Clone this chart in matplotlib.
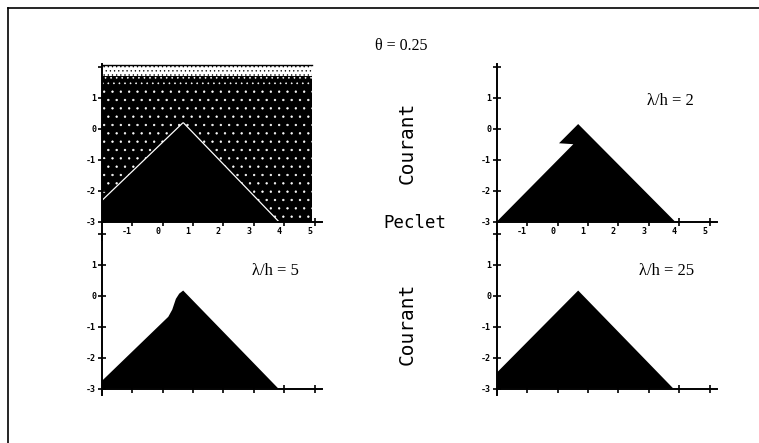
import matplotlib.pyplot as plt
from matplotlib.lines import Line2D
from matplotlib.patches import Rectangle
from matplotlib.transforms import ScaledTranslation

FIG_W, FIG_H, DPI = 759, 443, 100

# log10(Peclet) on x, log10(Courant) on y
peclet_ticks = [-1, 0, 1, 2, 3, 4, 5]
peclet_tick_labels = ["-1", "0", "1", "2", "3", "4", "5"]
courant_ticks = [-3, -2, -1, 0, 1, 2]
courant_tick_labels = ["-3", "-2", "-1", "0", "1", ""]

# stability boundary, lumped scheme (upper left)
peclet_lumped = [-2.0, 0.68, 3.80]
courant_lumped = [-2.35, 0.17, -3.0]
# extent of the unstable (noisy) zone in the lumped case
noise_peclet = [-2.0, 4.91]
noise_courant = [-3.0, 2.05]
noise_mid_courant = [1.30, 1.70]
noise_top_courant = [1.70, 2.05]

# lambda/h = 2
peclet_lh2 = [-2.0, 0.52, 0.05, 0.68, 3.87]
courant_lh2 = [-3.0, -0.50, -0.47, 0.15, -3.0]

# lambda/h = 5
peclet_lh5 = [-2.0, 0.19, 0.32, 0.44, 0.55, 0.68, 3.81]
courant_lh5 = [-2.76, -0.68, -0.45, -0.10, 0.07, 0.17, -3.0]

# lambda/h = 25
peclet_lh25 = [-2.0, 0.68, 3.81]
courant_lh25 = [-2.49, 0.17, -3.0]

panel_titles = ["", r"λ/h = 2", r"λ/h = 5", r"λ/h = 25"]


def px_rect(left, top, right, bottom):
    """Pixel box -> figure fraction rect."""
    return [left / FIG_W, 1 - bottom / FIG_H, (right - left) / FIG_W, (bottom - top) / FIG_H]


def style_axes(ax, fig, ylim, show_xlabels):
    ax.set_facecolor("none")
    ax.set_xlim(-2.0, 5.24)
    ax.set_ylim(*ylim)
    for side in ("top", "right"):
        ax.spines[side].set_visible(False)
    ax.spines["bottom"].set_position(("data", -3.0))
    for side in ("left", "bottom"):
        ax.spines[side].set_linewidth(1.4)
        ax.spines[side].set_zorder(5)

    ax.tick_params(direction="inout", length=6, width=1.2, pad=1.0, zorder=6)
    ax.set_xticks(peclet_ticks)
    ax.set_yticks(courant_ticks)
    tick_font = dict(fontfamily="DejaVu Sans Mono", fontweight="bold", fontsize=6)
    ax.set_yticklabels(courant_tick_labels, **tick_font)
    if show_xlabels:
        ax.set_xticklabels(peclet_tick_labels, **tick_font)
        shift = ScaledTranslation(-5 / DPI, 0, fig.dpi_scale_trans)
        for lab in ax.get_xticklabels():
            lab.set_transform(lab.get_transform() + shift)
    else:
        ax.set_xticklabels([])


def fill_stable(ax, peclet, courant):
    xs = list(peclet) + [peclet[-1], peclet[0]]
    ys = list(courant) + [-3.0, -3.0]
    ax.fill(xs, ys, facecolor="black", edgecolor="none", zorder=3)


def speckle_band(ax, courant_span, face, dots, hatch, z):
    ax.add_patch(Rectangle(
        (noise_peclet[0], courant_span[0]),
        noise_peclet[1] - noise_peclet[0], courant_span[1] - courant_span[0],
        facecolor=face, edgecolor=dots, hatch=hatch, linewidth=0, zorder=z,
    ))


def draw_lumped(ax):
    # unstable zone: black with white specks, lighter towards the top
    speckle_band(ax, noise_courant, "black", "white", "..", 1.0)
    speckle_band(ax, noise_mid_courant, "black", "white", "...", 1.5)
    speckle_band(ax, noise_top_courant, "white", "black", "....", 1.6)
    ax.plot(noise_peclet, [noise_courant[1]] * 2, color="black", lw=1.0, zorder=2)
    # thin white gap along the stability boundary
    ax.plot(peclet_lumped, courant_lumped, color="white", lw=1.8, zorder=2.5,
            solid_capstyle="butt")
    fill_stable(ax, peclet_lumped, courant_lumped)


def main():
    plt.rcParams["hatch.linewidth"] = 0.45
    fig = plt.figure(figsize=(FIG_W / DPI, FIG_H / DPI), dpi=DPI)
    fig.patch.set_facecolor("white")

    top_y = (64.2, 240.3)
    bot_y = (231.5, 394.7)
    left_x = (101.7, 321.8)
    right_x = (496.7, 716.8)

    ax_a = fig.add_axes(px_rect(left_x[0], top_y[0], left_x[1], top_y[1]))
    ax_b = fig.add_axes(px_rect(right_x[0], top_y[0], right_x[1], top_y[1]))
    ax_c = fig.add_axes(px_rect(left_x[0], bot_y[0], left_x[1], bot_y[1]))
    ax_d = fig.add_axes(px_rect(right_x[0], bot_y[0], right_x[1], bot_y[1]))

    style_axes(ax_a, fig, (-3.6, 2.08), True)
    style_axes(ax_b, fig, (-3.6, 2.08), True)
    style_axes(ax_c, fig, (-3.2, 2.08), False)
    style_axes(ax_d, fig, (-3.2, 2.08), False)

    draw_lumped(ax_a)
    fill_stable(ax_b, peclet_lh2, courant_lh2)
    fill_stable(ax_c, peclet_lh5, courant_lh5)
    fill_stable(ax_d, peclet_lh25, courant_lh25)

    serif = dict(fontfamily="Liberation Serif", fontsize=12, ha="center", va="center")
    ax_b.text(0.79, 0.79, panel_titles[1], transform=ax_b.transAxes, **serif)
    ax_c.text(0.79, 0.76, panel_titles[2], transform=ax_c.transAxes, **serif)
    ax_d.text(0.77, 0.76, panel_titles[3], transform=ax_d.transAxes, **serif)

    fig.text(401 / FIG_W, 1 - 45.5 / FIG_H, "θ = 0.25", fontfamily="Liberation Serif",
             fontsize=11.5, ha="center", va="center")

    mono = dict(fontfamily="DejaVu Sans Mono", ha="center", va="center")
    fig.text(415 / FIG_W, 1 - 223 / FIG_H, "Peclet", fontsize=12.5, **mono)
    fig.text(407 / FIG_W, 1 - 143 / FIG_H, "Courant", fontsize=14, rotation=90, **mono)
    fig.text(407 / FIG_W, 1 - 324 / FIG_H, "Courant", fontsize=14, rotation=90, **mono)

    # page frame (top and left edges)
    fig.add_artist(Line2D([7.5 / FIG_W, 1.0], [1 - 7.5 / FIG_H] * 2, color="black", lw=1.2))
    fig.add_artist(Line2D([7.5 / FIG_W] * 2, [0.0, 1 - 7.5 / FIG_H], color="black", lw=1.2))

    fig.savefig("out.png", dpi=DPI)
    plt.close(fig)


if __name__ == "__main__":
    main()
